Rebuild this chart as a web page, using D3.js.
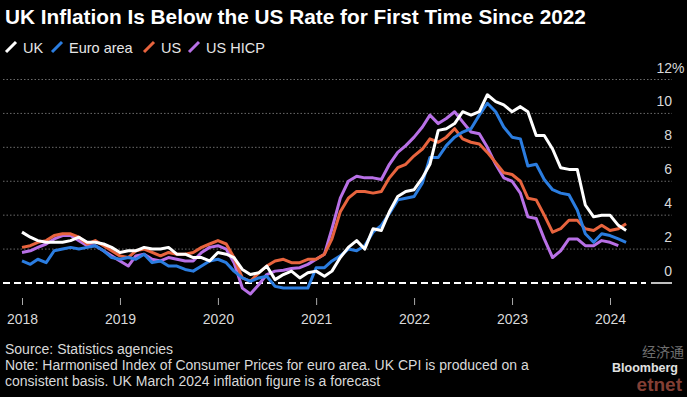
<!DOCTYPE html>
<html>
<head>
<meta charset="utf-8">
<script src="https://cdn.jsdelivr.net/npm/d3@7"></script>
<style>
  html, body { margin: 0; padding: 0; background: #000; }
  svg { display: block; font-family: "Liberation Sans", Arial, sans-serif; }
</style>
</head>
<body>
<script>
// Monthly year-on-year inflation, % (Jan 2018 onwards)
const START = new Date(2018, 0, 1);

const uk = [
  3.0, 2.7, 2.5, 2.4, 2.4, 2.4, 2.5, 2.7, 2.4, 2.4, 2.3, 2.1,
  1.8, 1.9, 1.9, 2.1, 2.0, 2.0, 2.1, 1.7, 1.7, 1.5, 1.5, 1.3,
  1.8, 1.7, 1.5, 0.8, 0.5, 0.6, 1.0, 0.2, 0.5, 0.7, 0.3, 0.6,
  0.7, 0.4, 0.7, 1.5, 2.1, 2.5, 2.0, 3.2, 3.1, 4.2, 5.1, 5.4,
  5.5, 6.2, 7.0, 9.0, 9.1, 9.4, 10.1, 9.9, 10.1, 11.1, 10.7, 10.5,
  10.1, 10.4, 10.1, 8.7, 8.7, 7.9, 6.8, 6.7, 6.7, 4.6, 3.9, 4.0,
  4.0, 3.4, 3.1
];
const euroArea = [
  1.3, 1.1, 1.4, 1.2, 1.9, 2.0, 2.1, 2.0, 2.1, 2.2, 1.9, 1.5,
  1.4, 1.5, 1.4, 1.7, 1.2, 1.3, 1.0, 1.0, 0.8, 0.7, 1.0, 1.3,
  1.4, 1.2, 0.7, 0.3, 0.1, 0.3, 0.4, -0.2, -0.3, -0.3, -0.3, -0.3,
  0.9, 0.9, 1.3, 1.6, 2.0, 1.9, 2.2, 3.0, 3.4, 4.1, 4.9, 5.0,
  5.1, 5.9, 7.4, 7.4, 8.1, 8.6, 8.9, 9.1, 9.9, 10.6, 10.1, 9.2,
  8.6, 8.5, 6.9, 7.0, 6.1, 5.5, 5.3, 5.2, 4.3, 2.9, 2.4, 2.9,
  2.8, 2.6, 2.4
];
const us = [
  2.1, 2.2, 2.4, 2.5, 2.8, 2.9, 2.9, 2.7, 2.3, 2.5, 2.2, 1.9,
  1.6, 1.5, 1.9, 2.0, 1.8, 1.6, 1.8, 1.7, 1.7, 1.8, 2.1, 2.3,
  2.5, 2.3, 1.5, 0.3, 0.1, 0.6, 1.0, 1.3, 1.4, 1.2, 1.2, 1.4,
  1.4, 1.7, 2.6, 4.2, 5.0, 5.4, 5.4, 5.3, 5.4, 6.2, 6.8, 7.0,
  7.5, 7.9, 8.5, 8.3, 8.6, 9.1, 8.5, 8.3, 8.2, 7.7, 7.1, 6.5,
  6.4, 6.0, 5.0, 4.9, 4.0, 3.0, 3.2, 3.7, 3.7, 3.2, 3.1, 3.4,
  3.1, 3.2, 3.5
];
const usHicp = [
  1.8, 1.9, 2.1, 2.3, 2.6, 2.8, 2.8, 2.5, 2.2, 2.2, 1.9, 1.6,
  1.3, 1.0, 1.6, 1.7, 1.4, 1.3, 1.5, 1.4, 1.3, 1.3, 1.8, 2.1,
  2.2, 2.0, 1.2, -0.3, -0.65, -0.1, 0.5, 0.7, 0.75, 0.85, 0.9, 1.1,
  1.4, 1.7, 3.2, 5.0, 6.0, 6.3, 6.2, 6.2, 6.1, 7.0, 7.7, 8.1,
  8.6, 9.2, 9.9, 9.4, 9.7, 10.1, 9.5, 8.9, 8.8, 8.0, 7.0, 6.2,
  6.0, 5.3, 3.9, 3.8, 2.6, 1.5, 1.9, 2.6, 2.6, 2.2, 2.2, 2.5,
  2.4, 2.2
];

const seriesNames = ["UK", "Euro area", "US", "US HICP"];
const seriesColors = ["#ffffff", "#2b7de0", "#e8643e", "#b870e6"];
const seriesValues = [uk, euroArea, us, usHicp];

const yTicks = [0, 2, 4, 6, 8, 10, 12];
const xTickYears = [2018, 2019, 2020, 2021, 2022, 2023, 2024];

const title = "UK Inflation Is Below the US Rate for First Time Since 2022";
const notes = [
  "Source: Statistics agencies",
  "Note: Harmonised Index of Consumer Prices for euro area. UK CPI is produced on a",
  "consistent basis. UK March 2024 inflation figure is a forecast"
];

const W = 687, H = 397;

const svg = d3.select("body").append("svg")
  .attr("width", W)
  .attr("height", H);

svg.append("rect").attr("width", W).attr("height", H).attr("fill", "#000");

const x = d3.scaleTime()
  .domain([new Date(2018, 0, 1), new Date(2024, 0, 1)])
  .range([22, 610]);

const y = d3.scaleLinear()
  .domain([0, 12])
  .range([283, 79.5]);

const monthDate = i => new Date(START.getFullYear(), START.getMonth() + i, 1);

// Title
svg.append("text")
  .attr("x", 5)
  .attr("y", 24)
  .attr("font-size", 20.8)
  .attr("font-weight", 700)
  .attr("fill", "#fff")
  .text(title);

// Legend
const legendX = [6, 52, 144, 189];
const legend = svg.append("g").attr("transform", "translate(0,47)");
seriesNames.forEach((name, i) => {
  const lg = legend.append("g").attr("transform", `translate(${legendX[i]},0)`);
  lg.append("line")
    .attr("x1", 0).attr("y1", 5)
    .attr("x2", 10).attr("y2", -5)
    .attr("stroke", seriesColors[i])
    .attr("stroke-width", 3);
  lg.append("text")
    .attr("x", 17)
    .attr("y", 5.5)
    .attr("font-size", 14.5)
    .attr("fill", "#e6e6e6")
    .text(name);
});

// Grid lines + right-side labels
const grid = svg.append("g");
yTicks.filter(v => v !== 0).forEach(v => {
  grid.append("line")
    .attr("x1", 3).attr("x2", 672)
    .attr("y1", y(v)).attr("y2", y(v))
    .attr("stroke", "#6a6a6a")
    .attr("stroke-width", 1)
    .attr("stroke-dasharray", "1.5,2");
});
yTicks.forEach(v => {
  grid.append("text")
    .attr("x", 672)
    .attr("y", y(v) - 7)
    .attr("text-anchor", "end")
    .attr("font-size", 14)
    .attr("fill", "#d9d9d9")
    .text(v);
});
grid.append("text")
  .attr("x", 672)
  .attr("y", y(12) - 7)
  .attr("font-size", 14)
  .attr("fill", "#d9d9d9")
  .text("%");

// Zero line: dashed across the plot, solid under the label
svg.append("line")
  .attr("x1", 3).attr("x2", 646)
  .attr("y1", y(0)).attr("y2", y(0))
  .attr("stroke", "#fff")
  .attr("stroke-width", 2)
  .attr("stroke-dasharray", "7,4");
svg.append("line")
  .attr("x1", 651).attr("x2", 672)
  .attr("y1", y(0)).attr("y2", y(0))
  .attr("stroke", "#fff")
  .attr("stroke-width", 1.5);

// X axis
svg.append("g")
  .attr("transform", "translate(0,298)")
  .call(d3.axisBottom(x)
    .tickValues(xTickYears.map(yr => new Date(yr, 0, 1)))
    .tickFormat(d3.timeFormat("%Y"))
    .tickSize(7)
    .tickPadding(9))
  .call(ax => ax.select(".domain").remove())
  .call(ax => ax.selectAll(".tick line").attr("stroke", "#aaa"))
  .call(ax => ax.selectAll("text")
    .attr("font-size", 14)
    .attr("font-family", "Liberation Sans, Arial, sans-serif")
    .attr("fill", "#d9d9d9"));

// Lines (last legend item drawn first so UK sits on top)
const line = d3.line()
  .x((d, i) => x(monthDate(i)))
  .y(d => y(d));

for (let s = seriesValues.length - 1; s >= 0; s--) {
  svg.append("path")
    .datum(seriesValues[s])
    .attr("fill", "none")
    .attr("stroke", seriesColors[s])
    .attr("stroke-width", 3)
    .attr("stroke-linejoin", "round")
    .attr("d", line);
}

// Footer notes
notes.forEach((t, i) => {
  svg.append("text")
    .attr("x", 5)
    .attr("y", 354 + i * 16)
    .attr("font-size", 14)
    .attr("fill", "#d9d9d9")
    .text(t);
});

// Watermarks
svg.append("text")
  .attr("x", 684).attr("y", 357)
  .attr("text-anchor", "end")
  .attr("font-family", "Noto Sans CJK SC")
  .attr("font-size", 14)
  .attr("fill", "#6f6f6f")
  .text("经济通");
svg.append("text")
  .attr("x", 678).attr("y", 372)
  .attr("text-anchor", "end")
  .attr("font-size", 12.5)
  .attr("font-weight", 700)
  .attr("fill", "#e0e0e0")
  .text("Bloomberg");
svg.append("text")
  .attr("x", 682).attr("y", 391)
  .attr("text-anchor", "end")
  .attr("font-size", 19)
  .attr("font-weight", 700)
  .attr("fill", "#9a4a3e")
  .attr("opacity", 0.85)
  .text("etnet");
</script>
</body>
</html>
